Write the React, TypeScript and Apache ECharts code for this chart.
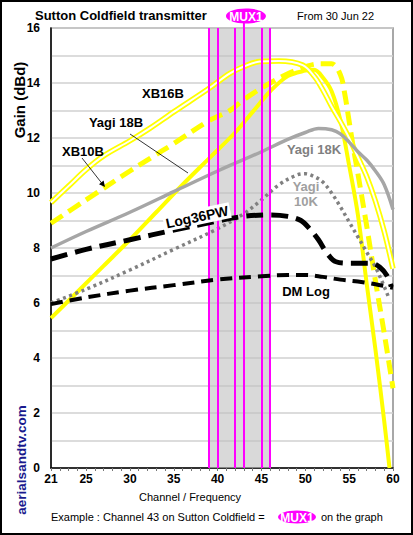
import React, { useEffect, useRef } from "react";
import * as echarts from "echarts";

// ---- data (channel, gain dBd) ----
const xb16bCh = [21, 23, 25, 27, 30, 32.3, 35, 39, 41.4, 43, 44.8, 47, 49.7, 51, 52, 53, 54, 55, 56, 57, 58, 59, 60];
const xb16bGain = [9.65, 10.25, 10.85, 11.35, 11.9, 12.36, 12.95, 13.8, 14.35, 14.6, 14.78, 14.8, 14.65, 14.25, 13.75, 13.15, 12.6, 12.0, 11.3, 10.6, 9.7, 8.6, 7.25];

const xb10bCh = [21, 25, 30, 32.3, 35, 39, 41.4, 43, 46, 49, 51.7, 53, 54, 54.5, 55, 55.5, 56, 57, 58, 59, 60];
const xb10bGain = [8.9, 9.75, 10.8, 11.26, 11.8, 12.63, 13.0, 13.4, 14.0, 14.47, 14.7, 14.7, 14.3, 13.6, 12.6, 11.6, 10.7, 8.8, 6.8, 4.9, 2.9];

const yagi18bCh = [21, 24, 27, 30, 33, 36, 39, 42, 44, 46, 48, 50, 51, 52, 53, 54, 55, 56, 57, 58, 59, 59.6];
const yagi18bGain = [5.45, 6.4, 7.35, 8.3, 9.3, 10.3, 11.25, 12.2, 12.95, 13.7, 14.25, 14.45, 14.48, 14.2, 13.7, 12.65, 11.0, 9.2, 6.7, 4.3, 1.7, 0];

const yagi18kCh = [21, 25, 30, 35, 40, 45, 48, 50, 51.5, 53, 54, 55, 56, 57, 58, 59, 60];
const yagi18kGain = [8.0, 8.6, 9.3, 10.05, 10.8, 11.5, 11.95, 12.2, 12.35, 12.3, 12.15, 11.85, 11.5, 11.2, 10.8, 10.3, 9.4];

const yagi10kCh = [21, 25, 30, 35, 40, 43, 45, 47, 49, 50, 51, 52, 53, 54, 55, 56, 57, 58, 59, 59.5];
const yagi10kGain = [6.0, 6.5, 7.2, 7.95, 8.7, 9.25, 9.75, 10.3, 10.65, 10.7, 10.6, 10.4, 10.0, 9.5, 8.95, 8.4, 7.85, 7.3, 6.6, 6.2];

const log36Ch = [21, 25, 30, 35, 40, 43, 46, 48, 49.5, 50.5, 51.5, 52.5, 53.5, 55, 57.5, 58.5, 59.3, 59.8];
const log36Gain = [7.6, 7.95, 8.3, 8.65, 8.98, 9.15, 9.2, 9.15, 9.0, 8.7, 8.3, 7.8, 7.5, 7.45, 7.45, 7.3, 7.0, 6.6];

const dmLogCh = [21, 25, 30, 35, 40, 45, 48, 50, 52, 54, 56, 58, 60];
const dmLogGain = [5.96, 6.2, 6.45, 6.65, 6.85, 6.97, 7.02, 7.02, 6.95, 6.85, 6.78, 6.68, 6.55];

const muxChannels = [39, 40, 42, 43, 45, 46];
const bandStart = 39;
const bandEnd = 46;
const highlightChannel = 43;

const xMin = 21;
const xMax = 60;
const yMin = 0;
const yMax = 16;

const zip = (a: number[], b: number[]) => a.map((v, i) => [v, b[i]]);

const FONT = '"Liberation Sans", Arial, Helvetica, sans-serif';

export default function App() {
  const ref = useRef<HTMLDivElement>(null);

  useEffect(() => {
    const chart = echarts.init(ref.current!, null, { renderer: "svg" });
    const line = (name: string, data: number[][], color: string, width: number, type: any, z: number) => ({
      name,
      type: "line",
      data,
      smooth: 0.35,
      showSymbol: false,
      symbol: "none",
      z,
      silent: true,
      lineStyle: { color, width, type, cap: "butt", join: "round" },
    });

    chart.setOption({
      animation: false,
      backgroundColor: "#ffffff",
      textStyle: { fontFamily: FONT },
      grid: {
        left: 51,
        right: 20,
        top: 28,
        bottom: 67,
        show: true,
        borderColor: "#8c8c8c",
        borderWidth: 1.5,
        containLabel: false,
      },
      xAxis: {
        type: "value",
        min: xMin,
        max: xMax,
        interval: 1,
        axisLine: { show: true, lineStyle: { color: "#000", width: 1.5 } },
        axisTick: { show: true, length: 3, lineStyle: { color: "#777" } },
        splitLine: { show: false },
        axisLabel: {
          margin: 5,
          fontWeight: "bold",
          fontSize: 12,
          color: "#000",
          fontFamily: FONT,
          formatter: (v: number) => (v === xMin || v % 5 === 0 ? String(v) : ""),
        },
      },
      yAxis: {
        type: "value",
        min: yMin,
        max: yMax,
        interval: 1,
        axisLine: { show: true, lineStyle: { color: "#000", width: 1.5 } },
        axisTick: { show: false },
        splitLine: { show: true, lineStyle: { color: "#d0d0d0", width: 1.5 } },
        axisLabel: {
          margin: 11,
          fontWeight: "bold",
          fontSize: 12,
          color: "#000",
          fontFamily: FONT,
          formatter: (v: number) => (v % 2 === 0 ? String(v) : ""),
        },
      },
      series: [
        {
          name: "band",
          type: "line",
          data: [],
          z: 1,
          silent: true,
          markArea: {
            silent: true,
            itemStyle: { color: "#bfbfbf", opacity: 0.6 },
            data: [[{ xAxis: bandStart }, { xAxis: bandEnd }]],
          },
          markLine: {
            silent: true,
            symbol: "none",
            label: { show: false },
            lineStyle: { color: "#ff00ff", width: 2, type: "solid" },
            data: muxChannels.map((c) => ({ xAxis: c })),
          },
        },
        line("Yagi 18B", zip(yagi18bCh, yagi18bGain), "#ffff00", 4, "solid", 3),
        line("XB10B", zip(xb10bCh, xb10bGain), "#ffff00", 5, [14, 7], 3),
        line("XB16B", zip(xb16bCh, xb16bGain), "#ffff00", 5.5, "solid", 3),
        line("XB16B inner", zip(xb16bCh, xb16bGain), "#ffffff", 2, "solid", 3),
        line("Yagi 18K", zip(yagi18kCh, yagi18kGain), "#a6a6a6", 3.5, "solid", 4),
        line("Yagi 10K", zip(yagi10kCh, yagi10kGain), "#808080", 3.5, [3, 3.5], 4),
        line("DM Log", zip(dmLogCh, dmLogGain), "#000000", 4, [12, 7], 5),
        line("Log36PW", zip(log36Ch, log36Gain), "#000000", 5, [17, 8], 5),
      ],
    });

    const hx = (chart.convertToPixel({ xAxisIndex: 0 }, highlightChannel) as number);
    const topY = (chart.convertToPixel({ yAxisIndex: 0 }, yMax) as number);

    const txt = (text: string, x: number, y: number, font: string, fill = "#000", align = "center", extra: any = {}) => ({
      type: "text",
      x,
      y,
      silent: true,
      z: 100,
      ...extra,
      style: { text, font, fill, align, verticalAlign: "middle", ...(extra.style || {}) },
    });

    chart.setOption({
      graphic: [
        {
          type: "rect",
          silent: true,
          z: 100,
          shape: { x: 1, y: 1, width: 411, height: 533 },
          style: { fill: "none", stroke: "#000", lineWidth: 2 },
        },
        txt("Sutton Coldfield transmitter", 35, 15, `bold 13px ${FONT}`, "#000", "left"),
        txt("From 30 Jun 22", 297, 16, `11px ${FONT}`, "#000", "left"),
        {
          type: "line",
          silent: true,
          z: 99,
          shape: { x1: hx, y1: 20, x2: hx, y2: topY },
          style: { stroke: "#ff00ff", lineWidth: 2 },
        },
        {
          type: "ellipse",
          silent: true,
          z: 100,
          shape: { cx: hx + 2, cy: 16, rx: 20, ry: 7.5 },
          style: { fill: "#ff00ff" },
        },
        txt("MUX1", hx + 2, 16.5, `bold 12px ${FONT}`, "#fff"),
        txt("Gain (dBd)", 19, 100, `bold 15px ${FONT}`, "#000", "center", { rotation: Math.PI / 2 }),
        txt("aerialsandtv.com", 21, 460, `bold 13.5px ${FONT}`, "#1a1a8e", "center", { rotation: Math.PI / 2 }),
        txt("Channel / Frequency", 139, 497, `11px ${FONT}`, "#000", "left"),
        txt("Example : Channel 43 on Sutton Coldfield = ", 51, 517, `11px ${FONT}`, "#000", "left"),
        {
          type: "ellipse",
          silent: true,
          z: 100,
          shape: { cx: 297, cy: 517, rx: 19, ry: 6.5 },
          style: { fill: "#ff00ff" },
        },
        txt("MUX1", 297, 517.5, `bold 12px ${FONT}`, "#fff"),
        txt("on the graph", 321, 517, `11px ${FONT}`, "#000", "left"),
        // annotations
        txt("XB16B", 163, 93, `bold 13px ${FONT}`),
        txt("Yagi 18B", 116, 122, `bold 13px ${FONT}`),
        txt("XB10B", 83, 151, `bold 13px ${FONT}`),
        {
          type: "line",
          silent: true,
          z: 100,
          shape: { x1: 130, y1: 134, x2: 188, y2: 173 },
          style: { stroke: "#000", lineWidth: 0.8 },
        },
        {
          type: "line",
          silent: true,
          z: 100,
          shape: { x1: 82, y1: 158, x2: 104, y2: 186 },
          style: { stroke: "#000", lineWidth: 0.8 },
        },
        {
          type: "polygon",
          silent: true,
          z: 100,
          shape: { points: [[105, 187], [99, 184.2], [103.6, 180.4]] },
          style: { fill: "#000" },
        },
        txt("Log36PW", 197, 217, `bold 14px ${FONT}`, "#000", "center", {
          rotation: 0.21,
          style: { backgroundColor: "#fff", padding: [1, 2] },
        }),
        txt("Yagi 18K", 314, 149, `bold 13px ${FONT}`, "#808080"),
        txt("Yagi", 306, 186, `bold 13px ${FONT}`, "#a0a0a0"),
        txt("10K", 306, 201, `bold 13px ${FONT}`, "#a0a0a0"),
        txt("DM Log", 306, 291, `bold 13px ${FONT}`),
      ],
    });

    return () => chart.dispose();
  }, []);

  return (
    <div
      ref={ref}
      style={{ position: "fixed", left: 0, top: 0, width: 413, height: 535, background: "#fff" }}
    />
  );
}
